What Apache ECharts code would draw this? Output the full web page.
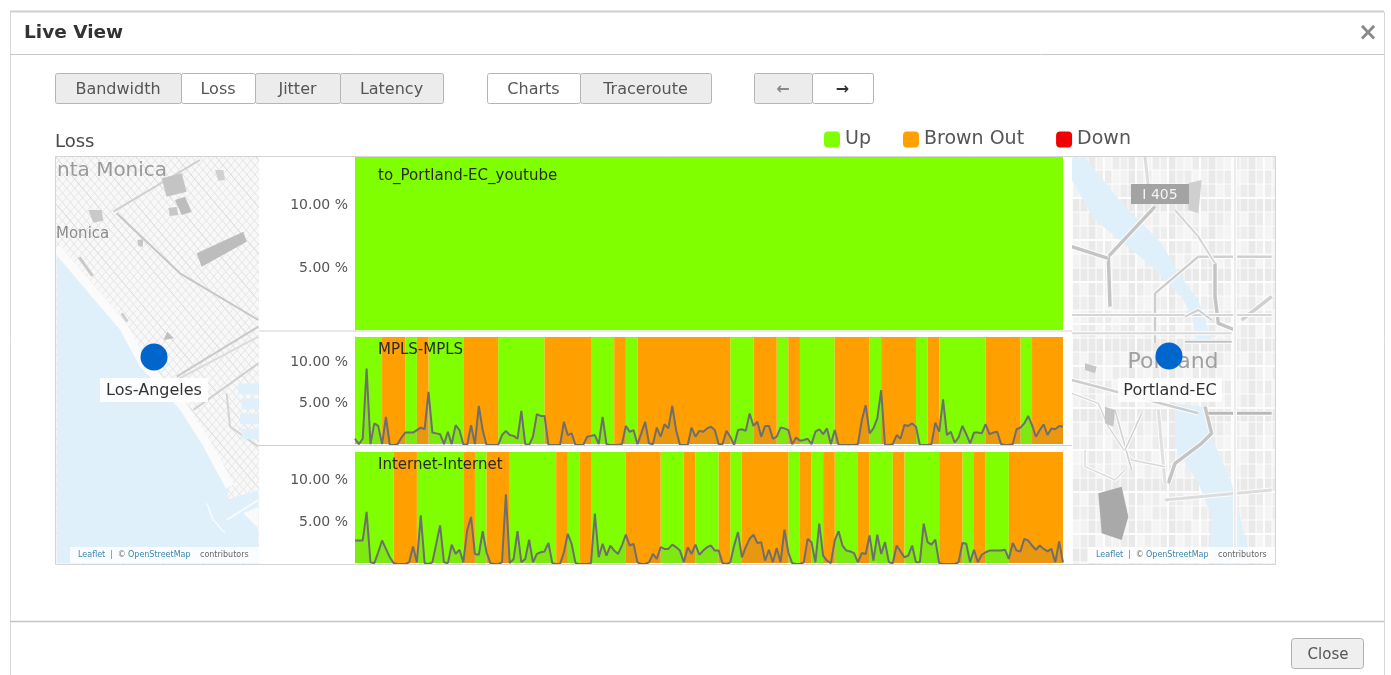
<!DOCTYPE html>
<html><head><meta charset="utf-8">
<style>html,body{margin:0;padding:0;background:#fff}#c{width:1391px;height:675px}</style>
<script src="https://cdn.jsdelivr.net/npm/echarts@6/dist/echarts.min.js"></script>
</head><body><div id="c"></div>
<script>
var chartNames = ['to_Portland-EC_youtube', 'MPLS-MPLS', 'Internet-Internet'];
var legendNames = ['Up', 'Brown Out', 'Down'];
var tickValues = [5, 10];
var youtubeBandEdges = [0, 183];
var mplsBandEdges = [0,7,13,16,19,28,37,49,61,67,70,73,97,103,109,112,115,124,133,136,145,148,151,163,172,175,183];
var internetBandEdges = [0,10,16,28,31,34,40,52,55,58,61,70,79,85,88,94,97,100,112,115,118,121,124,130,133,139,142,151,157,160,163,169,183];
var mplsLoss = [
0.75,0.1,0.75,9.2,0.1,2.6,2.3,0.1,3.4,0,0,0.1,0.9,1.5,1.5,1.5,1.8,2.1,1.9,6.4,
1.5,1.4,1.3,0.1,1.6,0.1,2.4,1.8,0.1,0,2.4,0.1,4.7,1.8,0,0,0,0,1.2,1.7,
1.2,1.1,0.75,4.1,0.1,0,1,3.7,3.5,3.5,0,0,0,0,2.8,1.2,1.4,0,0,0,
1,1.1,1.2,0.1,3.4,0.1,0,0,0,0.1,2.3,1.6,1.8,0.1,1.4,2.8,0.2,0.1,2.1,1,
2.5,2,4.7,1.8,0,0,0,2.1,1,1.7,1.6,2,2.2,1.8,0.1,0.1,1.7,1,0,1.8,
1.9,1.7,3.8,2.3,2.8,1,2.3,2.3,0.75,1,2.1,2,1.8,0.1,0.9,0.5,0.6,0.75,0.1,1.6,
1.9,1.3,2,0.1,1.8,0,0,0,0,0,0.1,3,4.8,1.4,2,3.2,6.6,0,0,0.1,
1.2,0.75,2.4,2.3,2.6,2.2,0,0,0,0.1,2.7,1.6,5.5,1.2,1.6,0.3,0.9,2.3,1.3,0.2,
1.5,1.5,1.4,2.5,1.3,1.5,1.6,0.1,0,0,0.1,1.9,2.1,2.6,3.5,2.4,1,1.8,2.5,1.2,
2,1.9,2.3,2.2];
var internetLoss = [
2.8,2.8,2.8,6.2,0.2,0.1,1.4,2.8,1.8,0.8,0.1,0,0,0,0.2,2.1,0.2,5.8,0.1,0,
0.2,2.4,4.6,0.2,0.1,2.3,1.2,1.7,0.2,4,5.6,1.2,1.1,3.9,1.4,0.1,0,0,0.2,8.3,
0.1,0.6,3.9,0.2,0.6,2.9,0.2,1.2,1.4,1.5,2.5,0.1,0,0,1.4,3.6,2.4,0.1,0,0,
0,0.1,6,0.8,2.4,1,2.2,1.6,1.2,2.2,3.5,2.2,2.4,0.2,0,0,0.2,1.2,0.6,2,
1.8,1.8,2.3,2,1.6,0.2,2,1.2,2.3,1.1,1.6,2,2.2,1.6,1.6,0.1,0,0.2,2.2,3.8,
0.8,2,3,3.5,2.5,2.6,0.4,1.7,0.2,1.9,0.2,4.1,1.4,0.1,0,0,0.2,3,2.6,0.2,
4.8,1,0.4,0.1,2.8,3.9,2.2,1.6,1.5,1.3,0.2,1.3,1.2,3.4,0.4,3.5,1.2,2.6,0.2,0.1,
2.2,1.5,0.8,1,2.2,0.2,0.2,4.8,2.6,2.3,2.9,0.1,0,0,0,0,0.2,2.5,2.4,0.2,
1.7,0.2,1.1,1.4,1.6,1.6,1.6,1.6,1.7,0.6,2.5,1.6,1.5,3,2.8,2.2,1.7,2.2,1.8,1.5,
1.8,0.2,2.7,0.2];

var GREEN = '#80ff00', ORANGE = '#ff9f00', RED = '#f00000';
var FONT = 'DejaVu Sans';
var PLOTS = [
  {top:157, height:173, min:0.08, max:13.81, title:176},
  {top:337, height:107, min:0.12, max:13.01, title:350},
  {top:452, height:111, min:0.12, max:13.33, title:465}
];
function bandRows(edges, odd){
  var rows = [];
  for (var i = 0; i + 1 < edges.length; i++) {
    if ((i % 2 === 1) === odd) rows.push([edges[i], edges[i + 1]]);
  }
  return rows;
}
function renderBand(color){
  return function(params, api){
    var a = api.coord([api.value(0), 1])[0], b = api.coord([api.value(1), 1])[0];
    var cs = params.coordSys;
    return {type:'rect', shape:{x:a, y:cs.y, width:b - a, height:cs.height}, style:{fill:color}};
  };
}
var bandSets = [youtubeBandEdges, mplsBandEdges, internetBandEdges];
var lineSets = [null, mplsLoss, internetLoss];
var series = [], grids = [], xAxes = [], yAxes = [], titles = [];
PLOTS.forEach(function(p, k){
  grids.push({left:355, width:708, top:p.top, height:p.height});
  xAxes.push({type:'value', gridIndex:k, min:0, max:183, show:true,
    axisLabel:{show:false}, axisTick:{show:false}, splitLine:{show:false},
    axisLine:{show:false}});
  yAxes.push({type:'value', gridIndex:k, min:p.min, max:p.max,
    axisTick:{show:false}, splitLine:{show:false},
    axisLine:{show:true, lineStyle:{color:'#bdbdbd', width:1}},
    axisLabel:{customValues:tickValues, margin:7, fontFamily:FONT, fontSize:14, color:'#555', padding:[2,0,0,0],
      formatter:function(v){return v.toFixed(2) + ' %';}}});
  series.push({type:'custom', name:'Up', xAxisIndex:k, yAxisIndex:k, itemStyle:{color:GREEN},
    renderItem:renderBand(GREEN), data:bandRows(bandSets[k], false), silent:true, z:1, clip:true});
  series.push({type:'custom', name:'Brown Out', xAxisIndex:k, yAxisIndex:k, itemStyle:{color:ORANGE},
    renderItem:renderBand(ORANGE), data:bandRows(bandSets[k], true), silent:true, z:1, clip:true});
  if (lineSets[k]) {
    series.push({type:'line', name:chartNames[k], xAxisIndex:k, yAxisIndex:k, showSymbol:false, symbol:'none',
      lineStyle:{color:'#6e6e6e', width:2}, areaStyle:{color:'rgba(110,110,110,0.22)'}, z:3, animation:false, clip:true,
      data:lineSets[k].map(function(v, i){return [i, v];})});
  }
  titles.push({text:chartNames[k], left:373, top:p.title - 12,
    textStyle:{fontFamily:FONT, fontSize:15, fontWeight:'normal', color:'#2a2a2a'}});
});
series.push({type:'custom', name:'Down', xAxisIndex:0, yAxisIndex:0, itemStyle:{color:RED},
  renderItem:renderBand(RED), data:[], silent:true});

/* ---- map decoration and dialog chrome ---- */
var g = [];
function R(x,y,w,h,fill,stroke,r,z){g.push({type:'rect',z:z||0,shape:{x:x,y:y,width:w,height:h,r:r||0},style:{fill:fill||'none',stroke:stroke||null,lineWidth:1}});}
function P(pts,fill,z){g.push({type:'polygon',z:z||0,shape:{points:pts},style:{fill:fill}});}
function L(pts,color,w,z){g.push({type:'polyline',z:z||0,shape:{points:pts},style:{stroke:color,lineWidth:w,fill:'none',lineJoin:'round'}});}
function T(s,x,y,size,color,align,weight,z,fam){g.push({type:'text',z:z||0,style:{text:s,x:x,y:y,fontSize:size,fontFamily:fam||FONT,fill:color,align:align||'left',verticalAlign:'middle',fontWeight:weight||'normal'}});}
function C(x,y,r,color,z){g.push({type:'circle',z:z||0,shape:{cx:x,cy:y,r:r},style:{fill:color}});}
var SEA = '#dff0fb';
function zl(a){return a.map(function(p){return [50 + p[0]/3, 150 + p[1]/3];});}
function zr(a){return a.map(function(p){return [1065 + p[0]/3, 150 + p[1]/3];});}
/* Los Angeles map */
R(55,156,204,408,'#f8f8f8');
var i, j;
for (i = -40; i < 60; i++) {
  var o = i * 8;
  L([[55 + o, 156],[55 + o + 350, 156 + 410]], i % 5 ? '#e3e3e3' : '#d8d8d8', 1);
  L([[55 + o + 200, 156],[55 + o - 150, 156 + 400]], '#e6e6e6', 1);
}
L(zl([[200,190],[390,370],[625,510]]), '#c6c6c6', 2);
L(zl([[190,185],[450,30]]), '#cfcfcf', 2);
L(zl([[380,680],[625,530]]), '#c9c9c9', 2);
L(zl([[430,780],[625,640]]), '#cfcfcf', 2);
L(zl([[380,690],[625,560]]), '#dcdcdc', 2);
L(zl([[530,730],[540,830],[625,890]]), '#d4d4d4', 2);
P(zl([[20,295],[130,425],[220,530],[280,640],[400,770],[470,880],[540,1010],[530,1050],[625,1020],[625,1240],[20,1240]]), SEA);
L(zl([[20,295],[130,425],[220,530],[280,640],[400,770],[470,880],[540,1010]]), '#fbfbfb', 9);
P(zl([[580,1090],[625,1070],[625,1135]]), '#fafafa');
L(zl([[470,1060],[490,1110],[525,1150]]), '#f7fbfe', 1.5);
L(zl([[530,1110],[625,1050]]), '#f7fbfe', 2);
[[565,700],[575,745],[570,790],[575,835]].forEach(function(b){var q=zl([b])[0];R(q[0],q[1],22,11,SEA);});
P(zl([[440,310],[580,245],[590,275],[455,350]]), '#bdbdbd');
P(zl([[335,85],[395,70],[410,125],[350,140]]), '#c4c4c4');
P(zl([[375,150],[405,140],[425,185],[395,195]]), '#bdbdbd');
P(zl([[355,175],[380,170],[385,195],[360,198]]), '#c7c7c7');
P(zl([[115,180],[155,180],[160,212],[130,218]]), '#c9c9c9');
P(zl([[495,60],[520,60],[525,90],[505,92]]), '#d0d0d0');
L(zl([[88,322],[128,378]]), '#c9c9c9', 3);
L(zl([[215,490],[232,515]]), '#cfcfcf', 3);
P(zl([[340,570],[372,565],[352,545]]), '#c0c0c0');
P(zl([[262,270],[280,268],[278,290],[265,288]]), '#c6c6c6');
T('nta Monica', 57, 171, 20, '#9a9a9a');
T('Monica', 56, 234, 15, '#8c8c8c');
/* Portland map */
R(1072,156,203,408,'#efefef');
var tones = ['#ececec','#f2f2f2','#eeeeee','#f5f5f5','#e9e9e9'];
for (i = 0; i < 26; i++) for (j = 0; j < 30; j++) {
  R(1072 + i*8, 156 + j*14, 8, 14, tones[(i*7 + j*13 + i*j) % 5]);
}
for (i = 0; i < 26; i++) L([[1072 + i*8, 156],[1072 + i*8, 564]], '#fdfdfd', i % 4 ? 1 : 2);
for (i = 0; i < 30; i++) L([[1072, 156 + i*14],[1275, 156 + i*14]], '#fdfdfd', i % 3 ? 1 : 2);
P(zr([[20,25],[60,25],[180,170],[290,280],[340,370],[400,450],[440,570],[395,570],[380,500],[350,440],[260,350],[190,290],[90,210],[20,90]]), SEA);
P(zr([[330,760],[415,770],[440,860],[500,1000],[560,1240],[430,1240],[440,1100],[400,1000],[330,890]]), SEA);
function road(pts,w,c){L(zr(pts),'#fdfdfd',w + 2);L(zr(pts),c||'#c4c4c4',w);}
road([[270,170],[130,320],[135,470]],3.5);
road([[20,290],[130,325]],3.5);
road([[400,320],[270,430],[270,580]],2.5,'#cdcdcd');
road([[620,320],[400,320]],2.5,'#d0d0d0');
road([[450,340],[450,440],[460,520],[510,540]],3.5);
road([[620,440],[530,510]],3.5,'#d0d0d0');
road([[20,495],[620,495]],2,'#d5d5d5');
road([[20,550],[500,550]],2,'#dadada');
road([[360,575],[500,575]],2,'#c0c0c0');
road([[420,770],[440,850],[410,880],[330,940],[310,1000]],3.5);
road([[280,780],[300,1000]],3,'#e0e0e0');
road([[300,1050],[620,1020]],3,'#dcdcdc');
road([[20,690],[400,790]],2.5,'#cdcdcd');
road([[430,790],[620,790]],3,'#b8b8b8');
road([[510,20],[510,1240]],2,'#ececec');
road([[240,20],[250,110]],3,'#dcdcdc');
road([[20,730],[100,760],[130,830],[170,890],[200,930],[300,950]],1.5,'#d8d8d8');
road([[60,900],[60,950],[150,990],[180,960]],1.5,'#dcdcdc');
road([[330,180],[400,260],[450,340]],2,'#d5d5d5');
road([[440,510],[400,480],[360,500]],2,'#cfcfcf');
road([[150,780],[200,960]],1.5,'#d0d0d0');
road([[230,790],[180,900]],1.5,'#d0d0d0');
P(zr([[100,1030],[170,1010],[190,1100],[170,1170],[110,1150]]), '#a9a9a9');
P(zr([[370,100],[410,90],[400,190],[370,180]]), '#cfcfcf');
P(zr([[120,770],[150,780],[145,830],[120,820]]), '#c6c6c6');
P(zr([[60,640],[95,650],[90,670],[60,660]]), '#c6c6c6');
R(1131,184,58,20,'#a3a3a3');
T('I 405', 1160, 195, 14, '#f4f4f4', 'center');
T('Portland', 1173, 362, 22, '#a0a0a0', 'center');
/* white cover around the charts and outside the maps */
R(0,120,55,560,'#fff');
R(1276,120,115,560,'#fff');
R(0,120,1391,36,'#fff');
R(0,564,1391,120,'#fff');
R(259,156,813,408,'#fff');
R(55.5,156.5,1220,408,null,'#d5d5d5');
L([[259,331],[1072,331]],'#d0d0d0',1);
L([[259,445.5],[1072,445.5]],'#d0d0d0',1);
/* markers */
C(154,357,13.5,'#0066cc');
R(100,378,108,24,'rgba(255,255,255,0.9)');
T('Los-Angeles',154,391,16,'#333','center');
C(1169,356,13.5,'#0066cc');
R(1118,378,104,24,'rgba(255,255,255,0.85)');
T('Portland-EC',1170,391,16,'#333','center');
function attribution(x0){
  R(x0,547,x0 < 500 ? 189 : 187,16,'rgba(255,255,255,0.85)');
  T('Leaflet',x0 + 8,555,8,'#3b86ad');
  T('|  ©',x0 + 40,555,8,'#777');
  T('OpenStreetMap',x0 + 58,555,8,'#3b86ad');
  T('contributors',x0 + 130,555,8,'#666');
}
attribution(70);
attribution(1088);
/* dialog */
L([[10,11.5],[1384,11.5]],'#cfcfcf',2);
L([[10.5,12],[10.5,675]],'#d8d8d8',1);
L([[1384.5,12],[1384.5,675]],'#d8d8d8',1);
L([[10,54.5],[1384,54.5]],'#c8c8c8',1);
L([[10,621.5],[1384,621.5]],'#c4c4c4',1.5);
T('Live View',24,33,18.5,'#333','left','bold');
T('×',1368,34,24,'#8a8a8a','center','bold');
T('Loss',55,142,18,'#4a4a4a');
function Btn(x0,x1,label,active,col,weight){
  R(x0 + .5,73.5,x1 - x0,30,active ? '#fff' : '#ececec','#b5b5b5',2);
  T(label,(x0 + x1)/2,89.5,16,col || '#555','center',weight);
}
Btn(55,181,'Bandwidth',false);Btn(181,255,'Loss',true);Btn(255,340,'Jitter',false);Btn(340,443,'Latency',false);
Btn(487,580,'Charts',true);Btn(580,711,'Traceroute',false);
Btn(754,812,'←',false,'#888','bold');Btn(812,873,'→',true,'#333','bold');
R(1291.5,638.5,72,30,'#efefef','#b0b0b0',3);
T('Close',1328,655,15,'#555','center');

var chart = echarts.init(document.getElementById('c'), null, {renderer:'canvas'});
chart.setOption({
  animation:false, backgroundColor:'#fff',
  title:titles, grid:grids, xAxis:xAxes, yAxis:yAxes, series:series,
  graphic:{z:0, elements:g},
  legend:{data:legendNames, left:819, top:125, itemWidth:16, itemHeight:16, itemGap:32, icon:'roundRect', selectedMode:false,
    textStyle:{fontFamily:FONT, fontSize:19, color:'#555'}}
});
</script></body></html>
